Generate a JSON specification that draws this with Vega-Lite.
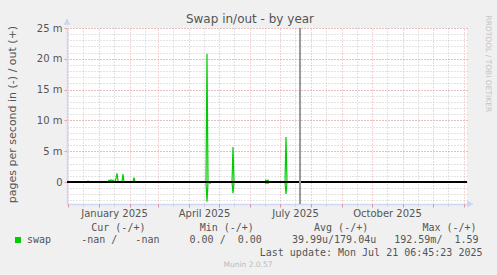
{
  "$schema": "https://vega.github.io/schema/vega-lite/v6.json",
  "width": 400,
  "height": 176,
  "autosize": "none",
  "padding": {"left": 67, "top": 28, "right": 30, "bottom": 71},
  "background": "#f0f0f0",
  "config": {"view": {"fill": "#ffffff", "stroke": null}, "font": "DejaVu Sans"},
  "title": {"text": "Swap in/out - by year", "font": "DejaVu Sans", "fontSize": 12, "fontWeight": "normal", "color": "#555555", "anchor": "middle", "frame": "group", "dx": -17, "baseline": "alphabetic", "offset": 4, "dy": 24},
  "data": {"values": [
    {"date": "2024-11-30", "dir": "out", "series": "swap", "value": 0},
    {"date": "2024-12-20", "dir": "out", "series": "swap", "value": 0},
    {"date": "2024-12-21", "dir": "out", "series": "swap", "value": 0.15},
    {"date": "2024-12-22", "dir": "out", "series": "swap", "value": 0},
    {"date": "2025-01-10", "dir": "out", "series": "swap", "value": 0},
    {"date": "2025-01-11", "dir": "out", "series": "swap", "value": 0.3},
    {"date": "2025-01-12", "dir": "out", "series": "swap", "value": 0.15},
    {"date": "2025-01-13", "dir": "out", "series": "swap", "value": 0.35},
    {"date": "2025-01-14", "dir": "out", "series": "swap", "value": 0.25},
    {"date": "2025-01-15", "dir": "out", "series": "swap", "value": 0.3},
    {"date": "2025-01-16", "dir": "out", "series": "swap", "value": 0.1},
    {"date": "2025-01-17", "dir": "out", "series": "swap", "value": 0},
    {"date": "2025-01-18", "dir": "out", "series": "swap", "value": 0.6},
    {"date": "2025-01-19", "dir": "out", "series": "swap", "value": 1.4},
    {"date": "2025-01-20", "dir": "out", "series": "swap", "value": 0.2},
    {"date": "2025-01-21", "dir": "out", "series": "swap", "value": 0},
    {"date": "2025-01-24", "dir": "out", "series": "swap", "value": 0},
    {"date": "2025-01-25", "dir": "out", "series": "swap", "value": 1.3},
    {"date": "2025-01-26", "dir": "out", "series": "swap", "value": 0},
    {"date": "2025-02-04", "dir": "out", "series": "swap", "value": 0},
    {"date": "2025-02-05", "dir": "out", "series": "swap", "value": 0.7},
    {"date": "2025-02-06", "dir": "out", "series": "swap", "value": 0},
    {"date": "2025-04-18", "dir": "out", "series": "swap", "value": 0},
    {"date": "2025-04-19", "dir": "out", "series": "swap", "value": 20.8},
    {"date": "2025-04-20", "dir": "out", "series": "swap", "value": 0},
    {"date": "2025-05-14", "dir": "out", "series": "swap", "value": 0},
    {"date": "2025-05-15", "dir": "out", "series": "swap", "value": 5.7},
    {"date": "2025-05-16", "dir": "out", "series": "swap", "value": 0},
    {"date": "2025-06-16", "dir": "out", "series": "swap", "value": 0},
    {"date": "2025-06-17", "dir": "out", "series": "swap", "value": 0.3},
    {"date": "2025-06-18", "dir": "out", "series": "swap", "value": 0.2},
    {"date": "2025-06-19", "dir": "out", "series": "swap", "value": 0.3},
    {"date": "2025-06-20", "dir": "out", "series": "swap", "value": 0},
    {"date": "2025-07-06", "dir": "out", "series": "swap", "value": 0},
    {"date": "2025-07-07", "dir": "out", "series": "swap", "value": 7.3},
    {"date": "2025-07-08", "dir": "out", "series": "swap", "value": 0},
    {"date": "2025-07-21", "dir": "out", "series": "swap", "value": 0},
    {"date": "2024-11-30", "dir": "in", "series": "swap", "value": 0},
    {"date": "2025-04-18", "dir": "in", "series": "swap", "value": 0},
    {"date": "2025-04-19", "dir": "in", "series": "swap", "value": -3.2},
    {"date": "2025-04-20", "dir": "in", "series": "swap", "value": 0},
    {"date": "2025-04-21", "dir": "in", "series": "swap", "value": 0},
    {"date": "2025-04-22", "dir": "in", "series": "swap", "value": -0.2},
    {"date": "2025-04-23", "dir": "in", "series": "swap", "value": 0},
    {"date": "2025-05-14", "dir": "in", "series": "swap", "value": 0},
    {"date": "2025-05-15", "dir": "in", "series": "swap", "value": -1.8},
    {"date": "2025-05-16", "dir": "in", "series": "swap", "value": 0},
    {"date": "2025-06-16", "dir": "in", "series": "swap", "value": 0},
    {"date": "2025-06-17", "dir": "in", "series": "swap", "value": -0.2},
    {"date": "2025-06-18", "dir": "in", "series": "swap", "value": 0},
    {"date": "2025-06-19", "dir": "in", "series": "swap", "value": -0.2},
    {"date": "2025-06-20", "dir": "in", "series": "swap", "value": 0},
    {"date": "2025-07-06", "dir": "in", "series": "swap", "value": 0},
    {"date": "2025-07-07", "dir": "in", "series": "swap", "value": -1.95},
    {"date": "2025-07-08", "dir": "in", "series": "swap", "value": 0},
    {"date": "2025-07-21", "dir": "in", "series": "swap", "value": 0}
  ]},
  "resolve": {"axis": {"x": "independent", "y": "independent"}},
  "layer": [
    {
      "mark": {"type": "line", "strokeWidth": 1.2, "clip": true},
      "encoding": {
        "x": {
          "field": "date", "type": "temporal",
          "scale": {"type": "utc", "domain": [{"year": 2024, "month": 11, "date": 30, "utc": true}, {"year": 2026, "month": 1, "date": 4, "utc": true}]},
          "axis": {
            "orient": "bottom",
            "values": [
              {"year": 2024, "month": 12, "date": 16, "utc": true},
              {"year": 2025, "month": 1, "date": 16, "utc": true},
              {"year": 2025, "month": 2, "date": 16, "utc": true},
              {"year": 2025, "month": 3, "date": 16, "utc": true},
              {"year": 2025, "month": 4, "date": 16, "utc": true},
              {"year": 2025, "month": 5, "date": 16, "utc": true},
              {"year": 2025, "month": 6, "date": 16, "utc": true},
              {"year": 2025, "month": 7, "date": 16, "utc": true},
              {"year": 2025, "month": 8, "date": 16, "utc": true},
              {"year": 2025, "month": 9, "date": 16, "utc": true},
              {"year": 2025, "month": 10, "date": 16, "utc": true},
              {"year": 2025, "month": 11, "date": 16, "utc": true},
              {"year": 2025, "month": 12, "date": 16, "utc": true}
            ],
            "labelExpr": "utcmonth(datum.value) % 3 == 0 ? utcFormat(datum.value, '%B %Y') : ''",
            "labelFont": "DejaVu Sans", "labelFontSize": 10, "labelColor": "#555555",
            "labelPadding": 2, "labelOverlap": false, "labelFlush": false,
            "grid": true, "gridColor": "#c8c8c8", "gridDash": [1, 2], "gridWidth": 1,
            "ticks": true, "tickSize": 2, "tickColor": "#c8c8c8",
            "domain": true, "domainColor": "#cfd6f8", "domainWidth": 1.5,
            "title": "Last update: Mon Jul 21 06:45:23 2025",
            "titleFont": "DejaVu Sans Mono", "titleFontSize": 10, "titleFontWeight": "normal", "titleColor": "#555555",
            "titleX": 415, "titleY": 48, "titleAlign": "right", "titleBaseline": "middle", "titleAnchor": null
          }
        },
        "y": {
          "field": "value", "type": "quantitative",
          "scale": {"domain": [-3.57, 25], "nice": false, "zero": false},
          "axis": {
            "orient": "right",
            "values": [-3, -2, -1, 0, 1, 2, 3, 4, 5, 6, 7, 8, 9, 10, 11, 12, 13, 14, 15, 16, 17, 18, 19, 20, 21, 22, 23, 24, 25],
            "labels": false, "ticks": false, "domain": false,
            "grid": true, "gridColor": "#c8c8c8", "gridDash": [1, 2], "gridWidth": 1,
            "title": "RRDTOOL / TOBI OETIKER",
            "titleFont": "DejaVu Sans", "titleFontSize": 7.5, "titleFontWeight": "normal", "titleColor": "#c4c4c4",
            "titleAngle": 90, "titleX": 20, "titleY": -13, "titleAlign": "left", "titleBaseline": "middle"
          }
        },
        "detail": {"field": "dir", "type": "nominal"},
        "color": {
          "field": "series", "type": "nominal",
          "scale": {"domain": ["swap"], "range": ["#00cc00"]},
          "legend": {
            "orient": "none", "legendX": -54, "legendY": 195, "padding": 0,
            "title": "\u200b\u00a0\u00a0\u00a0\u00a0\u00a0\u00a0\u00a0\u00a0\u00a0\u00a0\u00a0\u00a0\u00a0Cur\u00a0(-/+)\u00a0\u00a0\u00a0\u00a0\u00a0\u00a0\u00a0\u00a0\u00a0Min\u00a0(-/+)\u00a0\u00a0\u00a0\u00a0\u00a0\u00a0\u00a0\u00a0\u00a0\u00a0Avg\u00a0(-/+)\u00a0\u00a0\u00a0\u00a0\u00a0\u00a0\u00a0\u00a0\u00a0Max\u00a0(-/+)",
            "titleFont": "DejaVu Sans Mono", "titleFontSize": 10, "titleFontWeight": "normal", "titleColor": "#555555",
            "titlePadding": 2, "titleLimit": 0,
            "labelExpr": "'swap\u00a0\u00a0\u00a0\u00a0\u00a0-nan\u00a0/\u00a0\u00a0\u00a0-nan\u00a0\u00a0\u00a0\u00a0\u00a00.00\u00a0/\u00a0\u00a00.00\u00a0\u00a0\u00a0\u00a0\u00a039.99u/179.04u\u00a0\u00a0\u00a0192.59m/\u00a0\u00a01.59'",
            "labelFont": "DejaVu Sans Mono", "labelFontSize": 10, "labelColor": "#555555", "labelLimit": 0, "labelOffset": 4,
            "symbolType": "square", "symbolSize": 36, "symbolFillColor": "#00cc00", "symbolStrokeColor": "#00cc00", "symbolStrokeWidth": 0
          }
        }
      }
    },
    {
      "mark": {"type": "rule", "color": "#000000", "strokeWidth": 1},
      "encoding": {
        "y": {
          "datum": 0, "type": "quantitative",
          "scale": {"domain": [-3.57, 25], "nice": false, "zero": false},
          "axis": {
            "orient": "left",
            "values": [0, 5, 10, 15, 20, 25],
            "labelExpr": "datum.value == 0 ? '0' : datum.value + ' m'",
            "labelFont": "DejaVu Sans", "labelFontSize": 10, "labelColor": "#555555", "labelPadding": 2,
            "grid": true, "gridColor": "#e05050", "gridOpacity": 0.5, "gridDash": [1, 2], "gridWidth": 1,
            "ticks": true, "tickSize": 3, "tickColor": "#e05050", "tickOpacity": 0.5,
            "domain": true, "domainColor": "#cfd6f8", "domainWidth": 1.5,
            "title": "pages per second in (-) / out (+)",
            "titleFont": "DejaVu Sans", "titleFontSize": 11, "titleFontWeight": "normal", "titleColor": "#555555",
            "titleAngle": -90, "titleX": -55, "titleY": 86, "titleAlign": "center", "titleBaseline": "middle"
          }
        }
      }
    },
    {
      "mark": {"type": "rule", "color": "#999999", "strokeWidth": 1},
      "encoding": {
        "x": {
          "datum": {"year": 2025, "month": 7, "date": 21, "hours": 6, "minutes": 45, "utc": true}, "type": "temporal",
          "scale": {"type": "utc", "domain": [{"year": 2024, "month": 11, "date": 30, "utc": true}, {"year": 2026, "month": 1, "date": 4, "utc": true}]},
          "axis": {
            "orient": "bottom",
            "values": [
              {"year": 2024, "month": 12, "date": 1, "utc": true},
              {"year": 2025, "month": 1, "date": 1, "utc": true},
              {"year": 2025, "month": 2, "date": 1, "utc": true},
              {"year": 2025, "month": 3, "date": 1, "utc": true},
              {"year": 2025, "month": 4, "date": 1, "utc": true},
              {"year": 2025, "month": 5, "date": 1, "utc": true},
              {"year": 2025, "month": 6, "date": 1, "utc": true},
              {"year": 2025, "month": 7, "date": 1, "utc": true},
              {"year": 2025, "month": 8, "date": 1, "utc": true},
              {"year": 2025, "month": 9, "date": 1, "utc": true},
              {"year": 2025, "month": 10, "date": 1, "utc": true},
              {"year": 2025, "month": 11, "date": 1, "utc": true},
              {"year": 2025, "month": 12, "date": 1, "utc": true},
              {"year": 2026, "month": 1, "date": 1, "utc": true}
            ],
            "labels": false, "domain": false,
            "grid": true, "gridColor": "#e05050", "gridOpacity": 0.5, "gridDash": [1, 2], "gridWidth": 1,
            "ticks": true, "tickSize": 3, "tickColor": "#e05050", "tickOpacity": 0.6,
            "title": "Munin 2.0.57",
            "titleFont": "DejaVu Sans", "titleFontSize": 7.5, "titleFontWeight": "normal", "titleColor": "#bbbbbb",
            "titleX": 180.5, "titleY": 60, "titleAlign": "center", "titleBaseline": "middle", "titleAnchor": null
          }
        }
      }
    },
    {
      "mark": {"type": "point", "shape": "triangle-up", "filled": true, "color": "#cfd6f8", "size": 30, "opacity": 1, "clip": false},
      "encoding": {
        "x": {"datum": {"year": 2024, "month": 11, "date": 30, "utc": true}, "type": "temporal", "axis": null,
          "scale": {"type": "utc", "domain": [{"year": 2024, "month": 11, "date": 30, "utc": true}, {"year": 2026, "month": 1, "date": 4, "utc": true}]}},
        "y": {"datum": 26, "type": "quantitative", "axis": null,
          "scale": {"domain": [-3.57, 25], "nice": false, "zero": false}}
      }
    },
    {
      "mark": {"type": "point", "shape": "triangle-right", "filled": true, "color": "#cfd6f8", "size": 30, "opacity": 1, "clip": false},
      "encoding": {
        "x": {"datum": {"year": 2026, "month": 1, "date": 7, "utc": true}, "type": "temporal", "axis": null,
          "scale": {"type": "utc", "domain": [{"year": 2024, "month": 11, "date": 30, "utc": true}, {"year": 2026, "month": 1, "date": 4, "utc": true}]}},
        "y": {"datum": -3.57, "type": "quantitative", "axis": null,
          "scale": {"domain": [-3.57, 25], "nice": false, "zero": false}}
      }
    }
  ]
}
